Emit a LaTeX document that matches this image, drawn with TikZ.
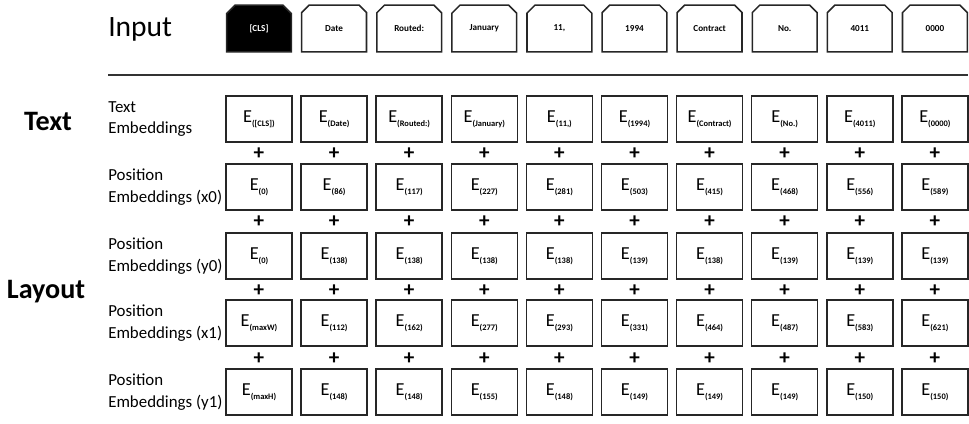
\documentclass[tikz,border=0pt]{standalone}
\usepackage{fontspec}
\setmainfont{Carlito}
\usetikzlibrary{shapes.misc}
\newcommand{\embsub}[1]{E\raisebox{-0.45ex}{\fontsize{6}{6}\selectfont\bfseries(#1)}}
\tikzset{
  tokbox/.style={draw=black!85, line width=1.1pt, chamfered rectangle, chamfered rectangle corners={north west,north east}, chamfered rectangle xsep=4.5pt, minimum width=1.62cm, minimum height=1.17cm, inner sep=0pt, font=\fontsize{6.5}{7}\selectfont\bfseries},
  embbox/.style={draw=black!85, line width=1.1pt, rectangle, minimum width=1.65cm, minimum height=1.15cm, inner sep=0pt, font=\fontsize{13}{13}\selectfont},
  rowlabel/.style={anchor=west, align=left, inner sep=0pt, font=\fontsize{12}{15.5}\selectfont},
  grouplabel/.style={inner sep=0pt, font=\fontsize{20}{20}\selectfont\bfseries},
  plussign/.style={inner sep=0pt, font=\fontsize{15}{15}\selectfont\bfseries}
}
\begin{document}
\begin{tikzpicture}[x=0.025cm, y=-0.025cm]
\useasboundingbox (0,0) rectangle (969,423);
% input tokens
\node[anchor=west, inner sep=0pt, font=\fontsize{21}{21}\selectfont] (input) at (108,29) {Input};
\node[tokbox, fill=black, text=white] (w0) at (259,28.5) {[CLS]};
\foreach \w [count=\i from 1] in {Date,Routed:,January,{11,},1994,Contract,No.,4011,0000} {\node[tokbox] (w\i) at (259+75.1*\i,28.5) {\w};}
\coordinate (ruleL) at (108,75);\coordinate (ruleR) at (968,75);
\draw[line width=2pt, black!80] (ruleL) -- (ruleR);
% group and row labels
\node[grouplabel] (grptext) at (48,121) {Text};\node[grouplabel] (grplayout) at (46,292) {Layout};
\node[rowlabel] (lab1) at (108,119) {Text\\Embeddings};
\node[rowlabel] (lab2) at (108,187) {Position\\Embeddings (x0)};
\node[rowlabel] (lab3) at (108,256) {Position\\Embeddings (y0)};
\node[rowlabel] (lab4) at (108,323) {Position\\Embeddings (x1)};
\node[rowlabel] (lab5) at (108,392) {Position\\Embeddings (y1)};
% embedding rows
\foreach \s [count=\i from 0] in {{[CLS]},Date,Routed:,January,{11,},1994,Contract,No.,4011,0000} {\node[embbox] (ea\i) at (259+75.1*\i,119) {\embsub{\s}};}
\foreach \s [count=\i from 0] in {0,86,117,227,281,503,415,468,556,589} {\node[embbox] (eb\i) at (259+75.1*\i,187) {\embsub{\s}};}
\foreach \s [count=\i from 0] in {0,138,138,138,138,139,138,139,139,139} {\node[embbox] (ec\i) at (259+75.1*\i,256) {\embsub{\s}};}
\foreach \s [count=\i from 0] in {maxW,112,162,277,293,331,464,487,583,621} {\node[embbox] (ed\i) at (259+75.1*\i,323) {\embsub{\s}};}
\foreach \s [count=\i from 0] in {maxH,148,148,155,148,149,149,149,150,150} {\node[embbox] (ee\i) at (259+75.1*\i,392) {\embsub{\s}};}
% plus signs between rows
\foreach \i in {0,...,9} {\node[plussign] (pa\i) at (259+75.1*\i,154) {+};\node[plussign] (pb\i) at (259+75.1*\i,222) {+};\node[plussign] (pc\i) at (259+75.1*\i,291) {+};\node[plussign] (pd\i) at (259+75.1*\i,359) {+};}
\end{tikzpicture}
\end{document}
